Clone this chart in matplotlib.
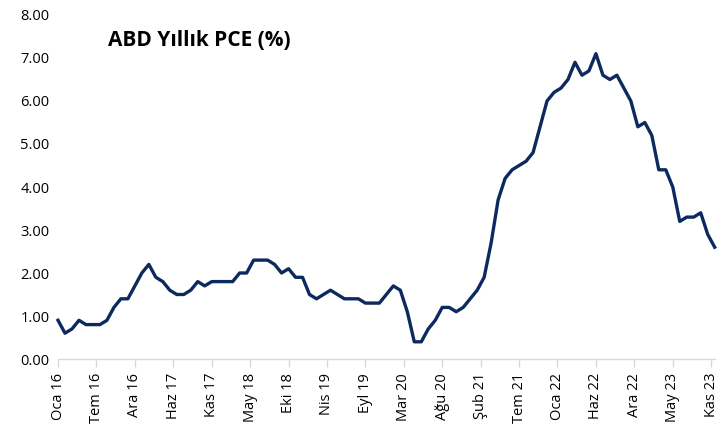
import numpy as np
import matplotlib
matplotlib.use("Agg")
import matplotlib.pyplot as plt

plt.rcParams["font.family"] = ["Open Sans", "DejaVu Sans"]

# ABD PCE yillik degisim (%), Ocak 2016 - Kasim 2023, aylik
pce_2016 = [0.9, 0.6, 0.7, 0.9, 0.8, 0.8, 0.8, 0.9, 1.2, 1.4, 1.4, 1.7]
pce_2017 = [2.0, 2.2, 1.9, 1.8, 1.6, 1.5, 1.5, 1.6, 1.8, 1.7, 1.8, 1.8]
pce_2018 = [1.8, 1.8, 2.0, 2.0, 2.3, 2.3, 2.3, 2.2, 2.0, 2.1, 1.9, 1.9]
pce_2019 = [1.5, 1.4, 1.5, 1.6, 1.5, 1.4, 1.4, 1.4, 1.3, 1.3, 1.3, 1.5]
pce_2020 = [1.7, 1.6, 1.1, 0.4, 0.4, 0.7, 0.9, 1.2, 1.2, 1.1, 1.2, 1.4]
pce_2021 = [1.6, 1.9, 2.7, 3.7, 4.2, 4.4, 4.5, 4.6, 4.8, 5.4, 6.0, 6.2]
pce_2022 = [6.3, 6.5, 6.9, 6.6, 6.7, 7.1, 6.6, 6.5, 6.6, 6.3, 6.0, 5.4]
pce_2023 = [5.5, 5.2, 4.4, 4.4, 4.0, 3.2, 3.3, 3.3, 3.4, 2.9, 2.6]

tick_labels = ["Oca 16", "Tem 16", "Ara 16", "Haz 17", "Kas 17", "May 18",
               "Eki 18", "Nis 19", "Eyl 19", "Mar 20", "Ağu 20", "Şub 21",
               "Tem 21", "Oca 22", "Haz 22", "Ara 22", "May 23", "Kas 23"]

pce = pce_2016 + pce_2017 + pce_2018 + pce_2019 + pce_2020 + pce_2021 + pce_2022 + pce_2023
months = np.arange(len(pce))

fig = plt.figure(figsize=(7.2, 4.36), dpi=100)
ax = fig.add_axes([0.0806, 0.1766, 0.912, 0.789])

ax.plot(months, pce, color="#0C2A5E", linewidth=2.4, solid_joinstyle="round",
        clip_on=False)

ax.set_xlim(0, len(pce) - 1)
ax.set_ylim(0, 8)

ax.set_yticks(np.arange(0, 9, 1))
ax.set_yticklabels([f"{v:.2f}" for v in range(9)], fontsize=10.5)
ax.tick_params(axis="y", length=0, pad=6)

ax.set_xticks(np.arange(len(tick_labels)) * 5.5)
ax.set_xticklabels(tick_labels, rotation=90, fontsize=10.5)
ax.tick_params(axis="x", length=6, color="#D9D9D9", width=1, pad=4)

for s in ["top", "right", "left"]:
    ax.spines[s].set_visible(False)
ax.spines["bottom"].set_color("#D9D9D9")
ax.spines["bottom"].set_linewidth(1)

ax.text(0.076, 0.927, "ABD Yıllık PCE (%)", transform=ax.transAxes,
        fontsize=15, fontweight="bold", va="center", ha="left")

fig.savefig("out.png", dpi=100)
